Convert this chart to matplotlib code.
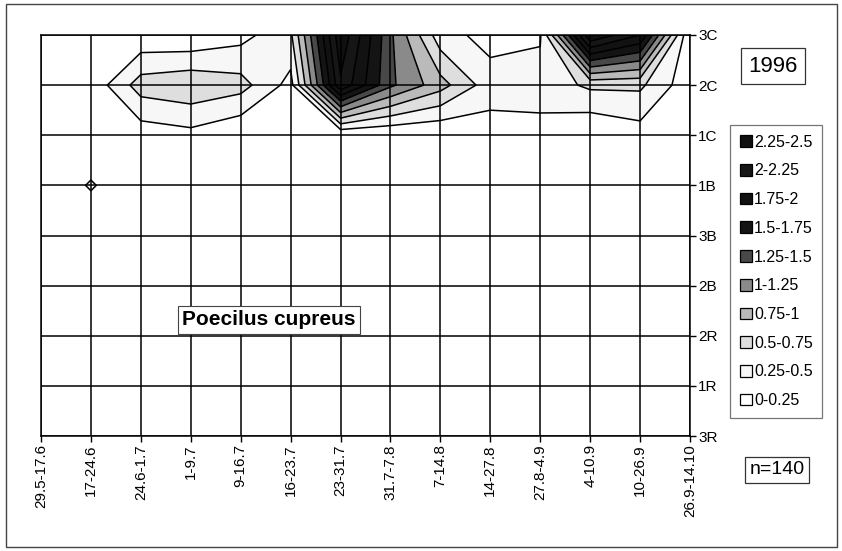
import numpy as np
import matplotlib.pyplot as plt
from matplotlib.patches import Patch, Rectangle

plt.rcParams['font.family'] = ['Liberation Sans', 'DejaVu Sans']

# --- Data: abundance by sampling period (x) and transect position (y) ---
periods = ['29.5-17.6', '17-24.6', '24.6-1.7', '1-9.7', '9-16.7', '16-23.7',
           '23-31.7', '31.7-7.8', '7-14.8', '14-27.8', '27.8-4.9', '4-10.9',
           '10-26.9', '26.9-14.10']
positions = ['3R', '1R', '2R', '2B', '3B', '1B', '1C', '2C', '3C']

row_3R = [0] * 14
row_1R = [0] * 14
row_2R = [0] * 14
row_2B = [0] * 14
row_3B = [0] * 14
row_1B = [0, 0.28, 0, 0, 0, 0, 0, 0, 0, 0, 0, 0, 0, 0]
row_1C = [0, 0, 0.10, 0.17, 0.02, 0, 0, 0, 0, 0.14, 0.17, 0, 0.13, 0]
row_2C = [0, 0.07, 0.62, 0.70, 0.60, 0.16, 2.20, 1.30, 0.85, 0.36, 0.35, 0.55, 0.55, 0.08]
row_3C = [0, 0, 0.05, 0.03, 0.16, 0.45, 2.45, 1.30, 0.35, 0.16, 0.22, 2.49, 2.00, 0]

levels = [0, 0.25, 0.5, 0.75, 1.0, 1.25, 1.5, 1.75, 2.0, 2.25, 2.5]
level_labels = ['0-0.25', '0.25-0.5', '0.5-0.75', '0.75-1', '1-1.25',
                '1.25-1.5', '1.5-1.75', '1.75-2', '2-2.25', '2.25-2.5']
fills = ['#ffffff', '#f7f7f7', '#dedede', '#bababa', '#8a8a8a',
         '#484848', '#141414', '#121212', '#161616', '#101010']

Z = np.array([row_3R, row_1R, row_2R, row_2B, row_3B, row_1B, row_1C, row_2C, row_3C])
X, Y = np.meshgrid(np.arange(len(periods)), np.arange(len(positions)))

fig = plt.figure(figsize=(8.42, 5.51), dpi=100)
ax = fig.add_axes([41 / 842, 1 - 436 / 551, 649 / 842, 401 / 551])

ax.contourf(X, Y, Z, levels=levels, colors=fills)
ax.contour(X, Y, Z, levels=levels[1:-1], colors='black', linewidths=1.1)

# category grid
for i in range(len(periods)):
    ax.axvline(i, color='black', lw=1.1, zorder=3)
for j in range(len(positions)):
    ax.axhline(j, color='black', lw=1.1, zorder=3)

ax.set_xlim(0, len(periods) - 1)
ax.set_ylim(0, len(positions) - 1)
ax.set_xticks(range(len(periods)))
ax.set_xticklabels(periods, rotation=90, fontsize=11)
ax.set_yticks(range(len(positions)))
ax.set_yticklabels(positions, fontsize=11)
ax.yaxis.tick_right()
ax.tick_params(axis='both', direction='out', length=4, width=1, color='black', pad=2)
for s in ax.spines.values():
    s.set_linewidth(1.1)

ax.text(4.57, 2.32, 'Poecilus cupreus', fontsize=15, fontweight='bold',
        ha='center', va='center', zorder=5,
        bbox=dict(boxstyle='square,pad=0.22', fc='white', ec='#444444', lw=0.8))

fig.text(773 / 842, 1 - 66 / 551, '1996', fontsize=16, ha='center', va='center',
         bbox=dict(boxstyle='square,pad=0.35', fc='white', ec='#333333', lw=0.9))
fig.text(777 / 842, 1 - 470 / 551, 'n=140', fontsize=14, ha='center', va='center',
         bbox=dict(boxstyle='square,pad=0.25', fc='white', ec='#333333', lw=0.9))

handles = [Patch(facecolor=c, edgecolor='black', lw=0.9) for c in fills][::-1]
leg = fig.legend(handles, level_labels[::-1], loc='upper left',
                 bbox_to_anchor=(730 / 842, 1 - 125 / 551), fontsize=11.5,
                 frameon=True, fancybox=False, edgecolor='#555555',
                 handlelength=0.75, handleheight=0.75, handletextpad=0.15,
                 labelspacing=0.86, borderpad=0.6, borderaxespad=0)
leg.get_frame().set_linewidth(0.9)

# outer frame
fig.patches.append(Rectangle((6 / 842, 4 / 551), 831 / 842, 543 / 551,
                             transform=fig.transFigure, fill=False,
                             ec='#444444', lw=1.0))

fig.savefig('out.png', dpi=100)
